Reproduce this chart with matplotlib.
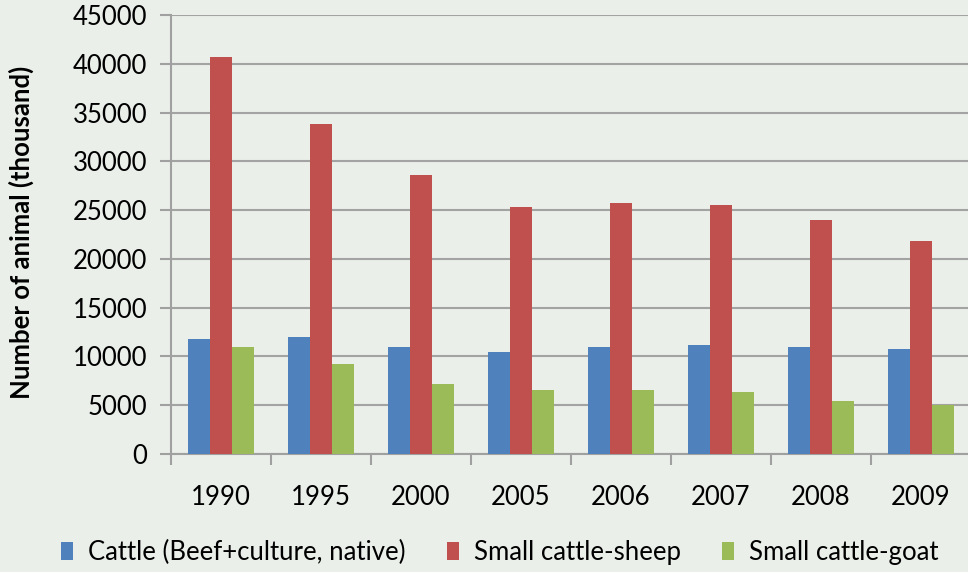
import numpy as np
import matplotlib.pyplot as plt

years = ['1990', '1995', '2000', '2005', '2006', '2007', '2008', '2009']
cattle = [11800, 12000, 11000, 10500, 11000, 11200, 11000, 10800]
sheep = [40700, 33800, 28550, 25300, 25700, 25500, 23950, 21800]
goat = [11000, 9250, 7200, 6550, 6550, 6350, 5450, 5050]
series_names = ['Cattle (Beef+culture, native)', 'Small cattle-sheep', 'Small cattle-goat']

bg = '#EAEFEA'
plt.rcParams['font.family'] = ['Lato', 'DejaVu Sans']

fig = plt.figure(figsize=(9.68, 5.72), dpi=100, facecolor=bg)
ax = fig.add_axes([171/968, 1-454/572, 800/968, 439/572])
ax.set_facecolor(bg)

x = np.arange(len(years))
w = 0.22
ax.bar(x - w, cattle, w, color='#4F81BD', label=series_names[0], zorder=3)
ax.bar(x, sheep, w, color='#C0504D', label=series_names[1], zorder=3)
ax.bar(x + w, goat, w, color='#9BBB59', label=series_names[2], zorder=3)

ax.set_ylim(0, 45000)
ax.set_yticks(np.arange(0, 45001, 5000))
ax.set_xlim(-0.5, len(years) - 0.5)
ax.set_xticks(x)
ax.set_xticklabels(years)
ax.set_xticks(np.arange(-0.5, len(years)), minor=True)
ax.tick_params(axis='x', which='major', length=0, pad=22, labelsize=18.5)
ax.tick_params(axis='x', which='minor', length=8, color='#A0A0A0', width=1.5)
ax.tick_params(axis='y', length=8, color='#A0A0A0', width=1.5, labelsize=18.5, pad=9)

ax.grid(axis='y', color='#A3A3A3', linewidth=1.5, zorder=0)
for s in ['top', 'right']:
    ax.spines[s].set_visible(False)
for s in ['left', 'bottom']:
    ax.spines[s].set_color('#A0A0A0')
    ax.spines[s].set_linewidth(1.5)

fig.text(21/968, 1-232/572, 'Number of animal (thousand)', rotation=90,
         ha='center', va='center', fontsize=18.5, fontweight='bold')

fig.legend(loc='center', bbox_to_anchor=(500/968, 1-552/572), ncol=3, frameon=False,
           fontsize=18.5, handlelength=0.45, handleheight=0.7, handletextpad=0.6,
           columnspacing=1.6)

fig.savefig('out.png', dpi=100, facecolor=bg)
